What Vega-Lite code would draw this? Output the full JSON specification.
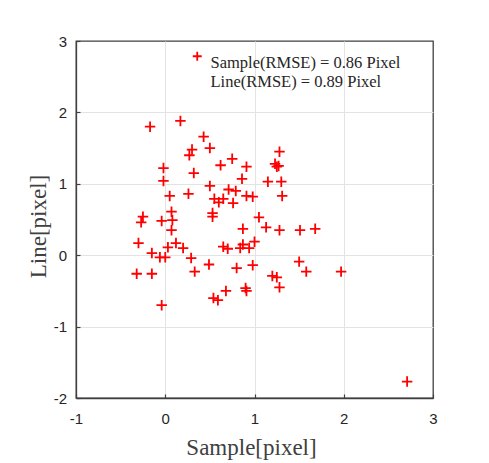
{
  "$schema": "https://vega.github.io/schema/vega-lite/v6.json",
  "width": 357,
  "height": 357,
  "autosize": {"type": "none"},
  "padding": {"left": 76, "top": 41, "right": 56, "bottom": 65},
  "background": "white",
  "config": {
    "view": {"stroke": "#404040", "strokeWidth": 1.3},
    "axis": {
      "grid": true,
      "gridColor": "#e3e3e3",
      "gridWidth": 1,
      "domain": true,
      "domainColor": "#404040",
      "domainWidth": 1.3,
      "ticks": true,
      "tickColor": "#404040",
      "tickWidth": 1.2,
      "tickSize": -4,
      "labelFont": "Liberation Sans",
      "labelFontSize": 15,
      "labelColor": "#262626",
      "labelFlush": false,
      "labelOverlap": false,
      "labelExpr": "datum.value < 0 ? '-' + abs(datum.value) : '' + datum.value",
      "titleFont": "Liberation Serif",
      "titleFontSize": 23,
      "titleFontWeight": "normal",
      "titleColor": "#404040"
    }
  },
  "data": {
    "values": [
      {"sample": -0.17, "line": 1.80},
      {"sample": 0.17, "line": 1.88},
      {"sample": 0.43, "line": 1.66},
      {"sample": 0.30, "line": 1.48},
      {"sample": 0.27, "line": 1.40},
      {"sample": 0.50, "line": 1.50},
      {"sample": -0.02, "line": 1.22},
      {"sample": -0.02, "line": 1.04},
      {"sample": 0.32, "line": 1.15},
      {"sample": 0.62, "line": 1.26},
      {"sample": 0.75, "line": 1.35},
      {"sample": 0.91, "line": 1.24},
      {"sample": 1.28, "line": 1.45},
      {"sample": 1.23, "line": 1.28},
      {"sample": 1.25, "line": 1.24},
      {"sample": 1.27, "line": 1.25},
      {"sample": 0.86, "line": 1.07},
      {"sample": 1.15, "line": 1.03},
      {"sample": 1.30, "line": 1.03},
      {"sample": 0.50, "line": 0.97},
      {"sample": 0.26, "line": 0.86},
      {"sample": 0.71, "line": 0.92},
      {"sample": 0.79, "line": 0.90},
      {"sample": 0.91, "line": 0.83},
      {"sample": 0.98, "line": 0.82},
      {"sample": 1.31, "line": 0.83},
      {"sample": 0.05, "line": 0.83},
      {"sample": 0.55, "line": 0.79},
      {"sample": 0.60, "line": 0.74},
      {"sample": 0.65, "line": 0.79},
      {"sample": 0.76, "line": 0.73},
      {"sample": 0.53, "line": 0.59},
      {"sample": 0.53, "line": 0.54},
      {"sample": 1.05, "line": 0.53},
      {"sample": 1.13, "line": 0.39},
      {"sample": 0.87, "line": 0.37},
      {"sample": 1.28, "line": 0.35},
      {"sample": 1.51, "line": 0.35},
      {"sample": 1.68, "line": 0.37},
      {"sample": -0.25, "line": 0.54},
      {"sample": -0.27, "line": 0.46},
      {"sample": -0.04, "line": 0.48},
      {"sample": 0.07, "line": 0.61},
      {"sample": 0.08, "line": 0.49},
      {"sample": 0.07, "line": 0.35},
      {"sample": -0.30, "line": 0.17},
      {"sample": -0.15, "line": 0.03},
      {"sample": -0.06, "line": -0.03},
      {"sample": 0.00, "line": -0.03},
      {"sample": 0.03, "line": 0.11},
      {"sample": 0.12, "line": 0.17},
      {"sample": 0.20, "line": 0.10},
      {"sample": 0.29, "line": -0.04},
      {"sample": 0.33, "line": -0.23},
      {"sample": 0.49, "line": -0.13},
      {"sample": 0.65, "line": 0.12},
      {"sample": 0.70, "line": 0.09},
      {"sample": 0.84, "line": 0.10},
      {"sample": 0.87, "line": 0.15},
      {"sample": 0.94, "line": 0.10},
      {"sample": 1.00, "line": 0.19},
      {"sample": -0.32, "line": -0.26},
      {"sample": -0.15, "line": -0.26},
      {"sample": -0.04, "line": -0.70},
      {"sample": 0.54, "line": -0.60},
      {"sample": 0.59, "line": -0.63},
      {"sample": 0.68, "line": -0.50},
      {"sample": 0.80, "line": -0.18},
      {"sample": 0.98, "line": -0.14},
      {"sample": 1.20, "line": -0.29},
      {"sample": 1.25, "line": -0.31},
      {"sample": 1.28, "line": -0.45},
      {"sample": 0.90, "line": -0.46},
      {"sample": 0.91, "line": -0.50},
      {"sample": 1.50, "line": -0.09},
      {"sample": 1.58, "line": -0.23},
      {"sample": 1.97, "line": -0.23},
      {"sample": 2.71, "line": -1.77}
    ]
  },
  "mark": {
    "type": "point",
    "shape": "M-1,0L1,0M0,-1L0,1",
    "filled": false,
    "size": 110,
    "strokeWidth": 1.8,
    "opacity": 1
  },
  "encoding": {
    "x": {
      "field": "sample",
      "type": "quantitative",
      "scale": {"domain": [-1, 3], "nice": false, "zero": false},
      "axis": {
        "values": [-1, 0, 1, 2, 3],
        "title": "Sample[pixel]",
        "labelPadding": 17,
        "titlePadding": 10,
        "titleX": 175,
        "gridOpacity": {"condition": {"test": "datum.value === -1 || datum.value === 3", "value": 0}, "value": 1}
      }
    },
    "y": {
      "field": "line",
      "type": "quantitative",
      "scale": {"domain": [-2, 3], "nice": false, "zero": false},
      "axis": {
        "values": [-2, -1, 0, 1, 2, 3],
        "title": "Line[pixel]",
        "labelPadding": 13.5,
        "titlePadding": 3,
        "titleY": 185,
        "gridOpacity": {"condition": {"test": "datum.value === -2 || datum.value === 3", "value": 0}, "value": 1}
      }
    },
    "color": {
      "datum": "Sample(RMSE) = 0.86 Pixel",
      "type": "nominal",
      "scale": {"range": ["#ff0000"]},
      "legend": {
        "title": null,
        "orient": "none",
        "legendX": 113,
        "legendY": 14,
        "padding": 0,
        "symbolType": "M-1,-1.57L1,-1.57M0,-2.57L0,-0.57",
        "symbolSize": 80,
        "symbolStrokeWidth": 1.8,
        "labelFont": "Liberation Serif",
        "labelFontSize": 16.5,
        "labelColor": "#262626",
        "labelLimit": 400,
        "labelOffset": 5,
        "labelExpr": "['Sample(RMSE) = 0.86 Pixel', 'Line(RMSE) = 0.89 Pixel']"
      }
    }
  }
}
